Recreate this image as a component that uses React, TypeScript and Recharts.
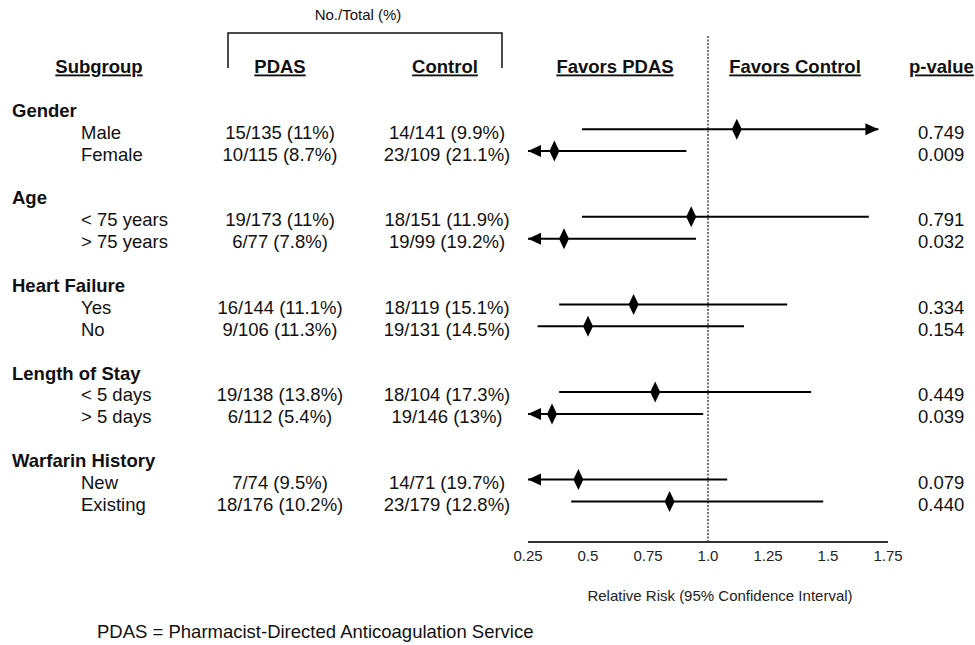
import React from 'react';
import { ScatterChart, Scatter, XAxis, YAxis, ErrorBar, ReferenceLine } from 'recharts';

const groups = ['Gender', 'Age', 'Heart Failure', 'Length of Stay', 'Warfarin History'];
const subgroups = ['Male', 'Female', '< 75 years', '> 75 years', 'Yes', 'No', '< 5 days', '> 5 days', 'New', 'Existing'];
const pdas = ['15/135 (11%)', '10/115 (8.7%)', '19/173 (11%)', '6/77 (7.8%)', '16/144 (11.1%)', '9/106 (11.3%)', '19/138 (13.8%)', '6/112 (5.4%)', '7/74 (9.5%)', '18/176 (10.2%)'];
const control = ['14/141 (9.9%)', '23/109 (21.1%)', '18/151 (11.9%)', '19/99 (19.2%)', '18/119 (15.1%)', '19/131 (14.5%)', '18/104 (17.3%)', '19/146 (13%)', '14/71 (19.7%)', '23/179 (12.8%)'];
const pValues = ['0.749', '0.009', '0.791', '0.032', '0.334', '0.154', '0.449', '0.039', '0.079', '0.440'];

// relative risk and 95% CI as drawn
const rr = [1.12, 0.36, 0.93, 0.40, 0.69, 0.50, 0.78, 0.35, 0.46, 0.84];
const ciLow = [0.475, 0.25, 0.475, 0.25, 0.38, 0.29, 0.38, 0.25, 0.25, 0.43];
const ciHigh = [1.71, 0.91, 1.67, 0.95, 1.33, 1.15, 1.43, 0.98, 1.08, 1.48];
// CI runs off the axis
const ciArrow = ['right', 'left', '', 'left', '', '', '', 'left', 'left', ''];

const xTicks = [0.25, 0.5, 0.75, 1, 1.25, 1.5, 1.75];
const xTickLabels = ['0.25', '0.5', '0.75', '1.0', '1.25', '1.5', '1.75'];

const FONT = 'Arial, "Liberation Sans", Helvetica, sans-serif';
const FS = 18.5;

// rows: group header, then its two subgroups, then a blank row
const tableRows: any[] = [];
const markRows: any[] = [];
const arrowRows: any[] = [];
groups.forEach((g, gi) => {
  tableRows.push({ x: 1, y: gi * 4, kind: 'group', label: g });
  [0, 1].forEach((k) => {
    const i = gi * 2 + k;
    const y = gi * 4 + 1 + k;
    tableRows.push({ x: 1, y, kind: 'sub', label: subgroups[i], pdas: pdas[i], control: control[i], p: pValues[i] });
    markRows.push({ x: rr[i], y, ci: [rr[i] - ciLow[i], ciHigh[i] - rr[i]] });
    if (ciArrow[i] === 'left') arrowRows.push({ x: ciLow[i], y, dir: 'left' });
    if (ciArrow[i] === 'right') arrowRows.push({ x: ciHigh[i], y, dir: 'right' });
  });
});

const Diamond = (props: any) => {
  const { cx, cy } = props;
  return <polygon points={`${cx},${cy - 10.5} ${cx + 5},${cy} ${cx},${cy + 10.5} ${cx - 5},${cy}`} fill="#000" />;
};

const Arrow = (props: any) => {
  const { cx, cy, payload } = props;
  const s = payload.dir === 'left' ? 1 : -1;
  return <polygon points={`${cx},${cy} ${cx + s * 13},${cy - 6} ${cx + s * 13},${cy + 6}`} fill="#000" />;
};

const TableRow = (props: any) => {
  const { cy, payload } = props;
  const y = cy + 3;
  const common = { y, dy: '0.35em', fontFamily: FONT, fontSize: FS, fill: '#111' };
  if (payload.kind === 'group') {
    return <text x={12} fontWeight="bold" {...common}>{payload.label}</text>;
  }
  return (
    <g>
      <text x={81} {...common}>{payload.label}</text>
      <text x={280} textAnchor="middle" {...common}>{payload.pdas}</text>
      <text x={447} textAnchor="middle" {...common}>{payload.control}</text>
      <text x={918} {...common}>{payload.p}</text>
    </g>
  );
};

const headStyle = { fontFamily: FONT, fontSize: FS, fontWeight: 'bold' as const, fill: '#111', textDecoration: 'underline' };

const App: React.FC = () => {
  return (
    <div style={{ position: 'relative', width: 975, height: 645, background: '#fff' }}>
      <style>{'body{margin:0}'}</style>
      <svg width={975} height={645} style={{ position: 'absolute', left: 0, top: 0 }}>
        <text x={358} y={15} dy="0.35em" textAnchor="middle" fontFamily={FONT} fontSize={15} fill="#111">No./Total (%)</text>
        <polyline points="228,68 228,33 502,33 502,68" fill="none" stroke="#111" strokeWidth={1.5} />
        <text x={99} y={67} dy="0.35em" textAnchor="middle" style={headStyle}>Subgroup</text>
        <text x={280} y={67} dy="0.35em" textAnchor="middle" style={headStyle}>PDAS</text>
        <text x={445} y={67} dy="0.35em" textAnchor="middle" style={headStyle}>Control</text>
        <text x={615} y={67} dy="0.35em" textAnchor="middle" style={headStyle}>Favors PDAS</text>
        <text x={795} y={67} dy="0.35em" textAnchor="middle" style={headStyle}>Favors Control</text>
        <text x={909} y={67} dy="0.35em" style={headStyle}>p-value</text>
        <text x={97} y={632} dy="0.35em" fontFamily={FONT} fontSize={FS} fill="#111">PDAS = Pharmacist-Directed Anticoagulation Service</text>
      </svg>
      <div style={{ position: 'absolute', left: 0, top: 0 }}>
        <ScatterChart width={975} height={645} margin={{ top: 35, right: 87, bottom: 73, left: 528 }}>
          <XAxis
            type="number"
            dataKey="x"
            domain={[0.25, 1.75]}
            ticks={xTicks}
            tickFormatter={(v: number) => xTickLabels[xTicks.indexOf(v)]}
            tickLine={false}
            axisLine={{ stroke: '#333', strokeWidth: 2 }}
            tick={{ fontFamily: FONT, fontSize: 15, fill: '#222' }}
            height={30}
            interval={0}
            label={{ value: 'Relative Risk (95% Confidence Interval)', position: 'bottom', offset: 18, dx: 12, fontFamily: FONT, fontSize: 15, fill: '#222' }}
          />
          <YAxis type="number" dataKey="y" domain={[-3.3, 19.85]} reversed hide width={0} />
          <ReferenceLine x={1} stroke="#444" strokeWidth={1.5} strokeDasharray="2 1.5" />
          <Scatter data={tableRows} shape={TableRow} isAnimationActive={false} />
          <Scatter data={markRows} shape={Diamond} isAnimationActive={false}>
            <ErrorBar dataKey="ci" direction="x" width={0} stroke="#000" strokeWidth={2} />
          </Scatter>
          <Scatter data={arrowRows} shape={Arrow} isAnimationActive={false} />
        </ScatterChart>
      </div>
    </div>
  );
};

export default App;
